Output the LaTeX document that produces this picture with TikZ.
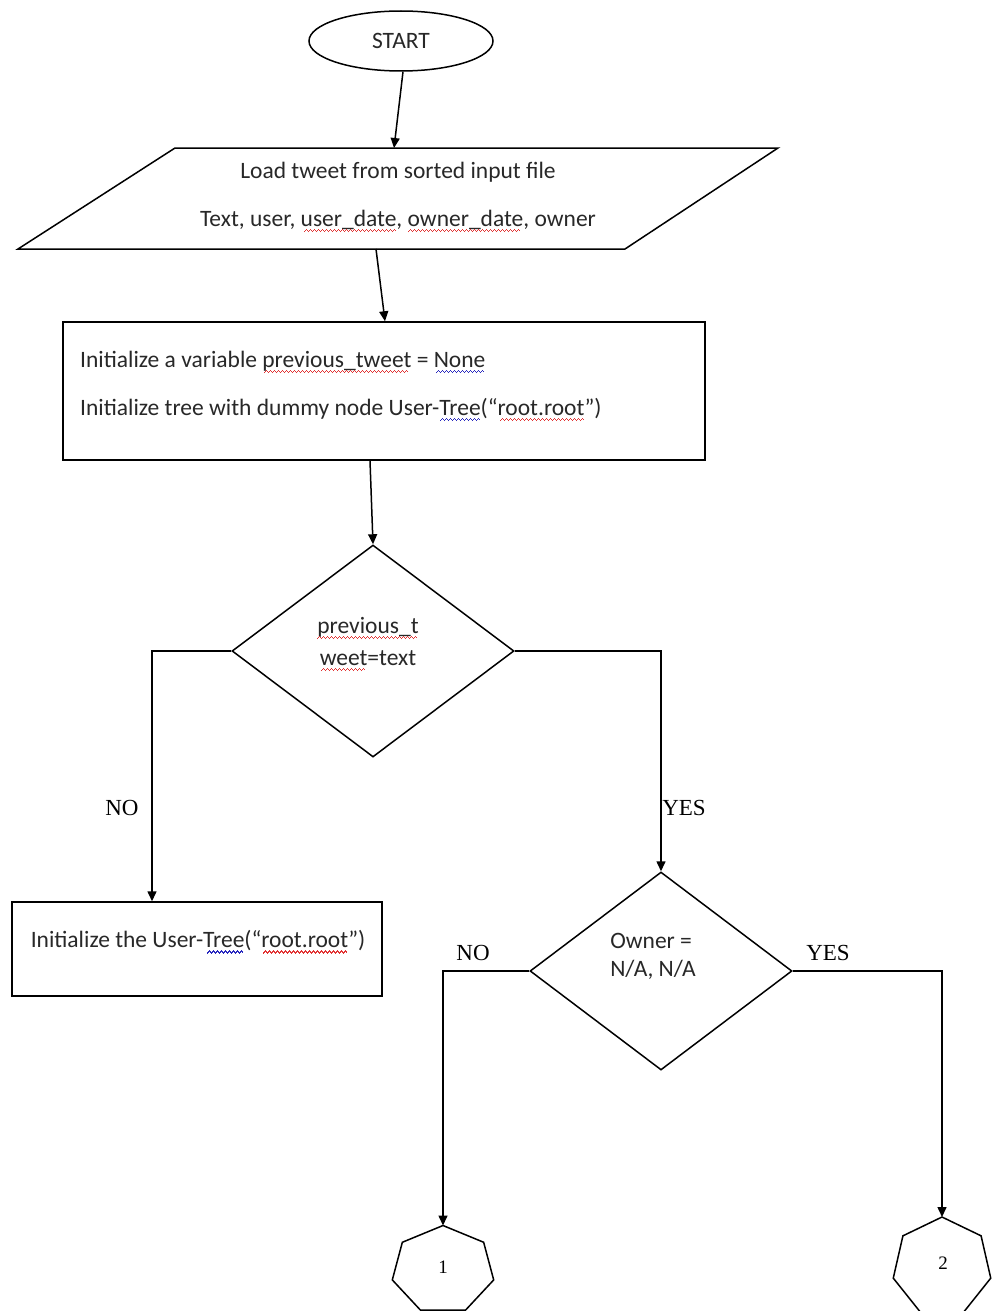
\documentclass[tikz,border=0pt]{standalone}
\usepackage{fontspec}
\setmainfont{Carlito}
\newfontfamily\tnr{Liberation Serif}
\usetikzlibrary{shapes.geometric,arrows.meta,calc}
\definecolor{sqr}{RGB}{225,50,50}
\definecolor{sqb}{RGB}{40,40,190}
\definecolor{ink}{RGB}{40,40,40}
\newcommand\sqwave[2]{\setbox0\hbox{#2}\rlap{\copy0}{\color{#1}\leaders\hbox{\rule[-6pt]{1pt}{1.2pt}\rule[-5pt]{1pt}{1.2pt}\rule[-4pt]{1pt}{1.2pt}\rule[-5pt]{1pt}{1.2pt}}\hskip\wd0}}
\newcommand\sqred[1]{\sqwave{sqr}{#1}}
\newcommand\sqblue[1]{\sqwave{sqb}{#1}}
\tikzset{
  ln/.style={line width=1.5pt, draw=black},
  arr/.style={ln, -{Triangle[length=10pt,width=9pt]}},
  txt/.style={font=\fontsize{23.5}{48}\selectfont, text=ink, inner sep=0pt},
  lbl/.style={font=\tnr\fontsize{23}{26}\selectfont, text=black, inner sep=0pt},
  num/.style={font=\tnr\fontsize{19}{19}\selectfont, text=black, inner sep=0pt},
  box/.style={ln, rectangle, inner sep=0pt},
}
\begin{document}
\begin{tikzpicture}[x=1pt,y=-1pt]
\fill[white] (0,0) rectangle (993,1311);
\useasboundingbox (0,0) rectangle (993,1311);

% START
\node[ln, ellipse, minimum width=184, minimum height=60, inner sep=0pt, txt] (start) at (401,41) {START};

% input parallelogram
\draw[ln, line join=miter] (18,249) -- (175,148) -- (778,148) -- (625,249) -- cycle;
\coordinate (ioTop) at (394,148);
\coordinate (ioBot) at (376,249);
\node[txt, align=center] (io) at (398,197)
  {Load tweet from sorted input file\\
   Text, user, \sqred{user\_date}, \sqred{owner\_date}, owner};

% init box
\node[box, minimum width=642, minimum height=138] (init) at (384,391) {};
\node[txt, anchor=west, align=left] (initT) at (80,386)
  {Initialize a variable \sqred{previous\_tweet} = \sqblue{None}\\
   Initialize tree with dummy node User-\sqblue{Tree}(“\sqred{root.root}”)};

% decision 1
\node[ln, diamond, minimum width=282, minimum height=212, inner sep=0pt] (d1) at (373,651) {};
\node[txt, align=center, font=\fontsize{23.5}{32}\selectfont] (d1T) at (368,644)
  {\sqred{previous\_t}\\ \sqred{weet}=text};

% left box
\node[box, minimum width=370, minimum height=94] (r2) at (197,949) {};
\node[txt] (r2T) at (198,942) {Initialize the User-\sqblue{Tree}(“\sqred{root.root}”)};

% decision 2
\node[ln, diamond, minimum width=262, minimum height=198, inner sep=0pt] (d2) at (661,971) {};
\node[txt, align=left, font=\fontsize{23.5}{28}\selectfont] (d2T) at (653,956)
  {Owner =\\ N/A, N/A};

% connectors (heptagons)
\coordinate (h1c) at (443,1270);
\coordinate (h2c) at (942,1267);
\coordinate (h1top) at ($(h1c)+(0pt,44.5pt)$);
\coordinate (h2top) at ($(h2c)+(0pt,50pt)$);
\draw[ln, line join=miter] ($(h1c)+(90:52pt and 44.5pt)$)
  \foreach \k in {1,...,6}{ -- ($(h1c)+({90+\k*360/7}:52pt and 44.5pt)$)} -- cycle;
\draw[ln, line join=miter] ($(h2c)+(90:50pt and 50pt)$)
  \foreach \k in {1,...,6}{ -- ($(h2c)+({90+\k*360/7}:50pt and 50pt)$)} -- cycle;
\node[num] (h1) at (443,1267) {1};
\node[num] (h2) at (943,1263) {2};

% arrows
\draw[arr] ([xshift=2pt]start.south) -- (ioTop);
\draw[arr] (ioBot) -- ([xshift=1pt]init.north);
\draw[arr] ([xshift=-14pt]init.south) -- (d1.north);
\draw[arr] (d1.west) -| ([xshift=-45pt]r2.north);
\draw[arr] (d1.east) -| (d2.north);
\draw[arr] (d2.west) -| (h1top);
\draw[arr] (d2.east) -| (h2top);

% labels
\node[lbl] (no1) at (122,808) {NO};
\node[lbl] (yes1) at (684,808) {YES};
\node[lbl] (no2) at (473,953) {NO};
\node[lbl] (yes2) at (828,953) {YES};
\end{tikzpicture}
\end{document}
